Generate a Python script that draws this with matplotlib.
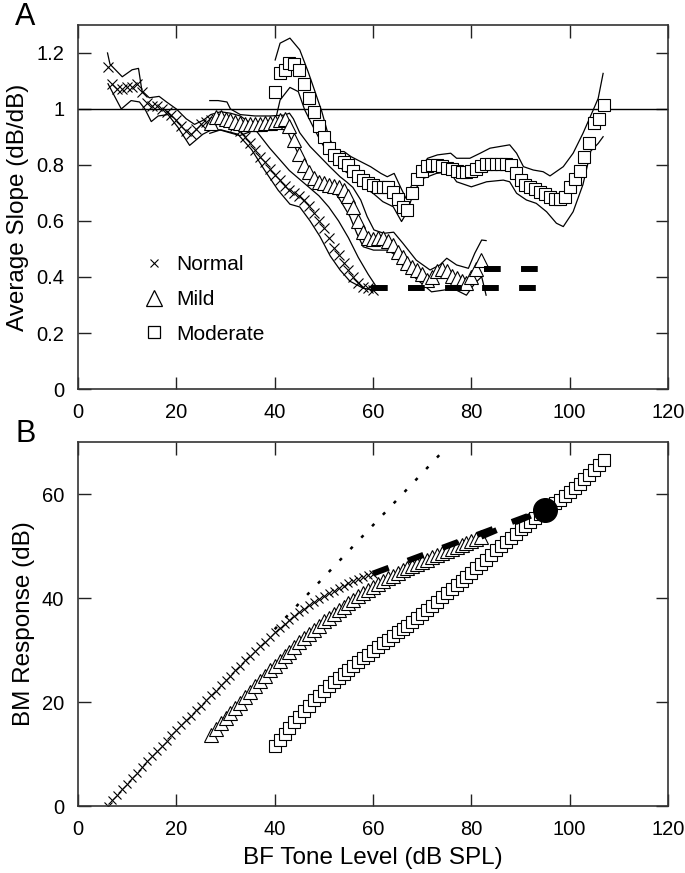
import matplotlib
matplotlib.use('Agg')
import matplotlib.pyplot as plt
from matplotlib.lines import Line2D

plt.rcParams['font.family'] = ['Liberation Sans', 'DejaVu Sans']

# ---- panel A: average slope vs BF tone level ----
normal_x = list(range(6, 61))
normal_slope = [1.15, 1.09, 1.07, 1.07, 1.08, 1.08, 1.09, 1.06, 1.02, 1.01,
                1.01, 1.00, 0.99, 0.98, 0.96, 0.94, 0.92, 0.91, 0.93, 0.945,
                0.955, 0.96, 0.965, 0.965, 0.96, 0.955, 0.94, 0.92, 0.90, 0.88,
                0.855, 0.83, 0.81, 0.785, 0.765, 0.745, 0.725, 0.71, 0.70, 0.69,
                0.675, 0.655, 0.63, 0.60, 0.575, 0.54, 0.505, 0.48, 0.45, 0.425,
                0.40, 0.38, 0.365, 0.36, 0.355]
normal_hi_x = [6, 6.5, 9, 11, 12.3, 13, 14.5, 16.5, 18, 20, 22, 23.7, 25.5, 27, 29,
               31, 33, 35, 37, 39, 41, 43, 45, 47, 49, 51, 53, 55, 57, 59, 60.5]
normal_hi = [1.20, 1.16, 1.115, 1.14, 1.145, 1.065, 1.04, 1.045, 1.025, 1.0, 0.965,
             0.945, 0.96, 0.98, 0.99, 0.985, 0.975, 0.95, 0.905, 0.86, 0.82, 0.78,
             0.75, 0.72, 0.69, 0.65, 0.60, 0.54, 0.47, 0.41, 0.37]
normal_lo_x = [6.1, 8.8, 10.8, 12.5, 13.6, 14.9, 16.3, 18.3, 20.3, 22.7, 25.4, 27.1,
               29.2, 32.5, 35.3, 38, 40.7, 43.1, 45.1, 47.2, 49.2, 51.3, 53.3, 55.3,
               58, 60.1]
normal_lo = [1.09, 1.0, 1.03, 1.025, 1.0, 0.955, 0.975, 0.98, 0.935, 0.87, 0.91,
             0.925, 0.925, 0.91, 0.855, 0.78, 0.71, 0.66, 0.65, 0.60, 0.545, 0.475,
             0.425, 0.385, 0.36, 0.354]

mild_x = list(range(27, 83))
mild_slope = [0.95, 0.97, 0.97, 0.965, 0.96, 0.955, 0.95, 0.945, 0.945, 0.945,
              0.945, 0.95, 0.95, 0.955, 0.96, 0.965, 0.94, 0.89, 0.84, 0.80,
              0.775, 0.755, 0.74, 0.735, 0.73, 0.725, 0.72, 0.71, 0.69, 0.65,
              0.60, 0.56, 0.54, 0.535, 0.54, 0.54, 0.53, 0.515, 0.49, 0.47,
              0.45, 0.435, 0.425, 0.41, 0.39, 0.40, 0.42, 0.43, 0.42, 0.405,
              0.395, 0.385, 0.38, 0.40, 0.43, 0.46]
mild_hi_x = [26.8, 28.5, 30.3, 31, 33, 36, 39, 42, 43, 43.8, 45.1, 47.2, 49.2, 51.2,
             53.3, 54.6, 55.9, 57.5, 58.8, 60.2, 62.2, 64.2, 66.1, 68.8, 71.6, 73.6,
             75, 77, 79.4, 80.7, 82.1, 83]
mild_hi = [1.03, 1.03, 1.025, 1.0, 0.98, 0.975, 0.975, 0.978, 0.985, 0.965, 0.915,
           0.866, 0.83, 0.794, 0.758, 0.74, 0.72, 0.675, 0.616, 0.568, 0.556, 0.56,
           0.52, 0.46, 0.425, 0.443, 0.467, 0.443, 0.431, 0.485, 0.532, 0.53]
mild_lo_x = [26.8, 28.9, 32.9, 36, 40, 42.5, 43.1, 45.1, 47.2, 49.2, 51.9, 53.3,
             55.3, 56.7, 58, 60.1, 62.8, 64.1, 66.8, 69.5, 71.9, 74.3, 76.3, 79,
             80.7, 82.1, 83]
mild_lo = [0.913, 0.925, 0.905, 0.925, 0.93, 0.925, 0.90, 0.83, 0.76, 0.735, 0.711,
           0.675, 0.616, 0.556, 0.508, 0.496, 0.496, 0.484, 0.425, 0.383, 0.347,
           0.353, 0.359, 0.335, 0.377, 0.401, 0.335]

mod_x = list(range(40, 108))
mod_slope = [1.06, 1.13, 1.14, 1.165, 1.16, 1.14, 1.09, 1.04, 0.99, 0.94,
             0.90, 0.86, 0.835, 0.82, 0.81, 0.80, 0.78, 0.76, 0.745, 0.735,
             0.728, 0.722, 0.72, 0.72, 0.705, 0.68, 0.65, 0.64, 0.70, 0.75,
             0.78, 0.795, 0.80, 0.80, 0.795, 0.79, 0.785, 0.78, 0.775, 0.775,
             0.78, 0.785, 0.795, 0.805, 0.805, 0.805, 0.805, 0.805, 0.80, 0.77,
             0.745, 0.73, 0.72, 0.715, 0.705, 0.695, 0.685, 0.68, 0.68, 0.685,
             0.72, 0.75, 0.78, 0.83, 0.88, 0.95, 0.965, 1.015]
mod_hi_x = [40.1, 41.1, 43.1, 45.1, 46.8, 48.2, 49.6, 51, 52.4, 54.1, 55.5, 57.5,
            59.5, 61.6, 62.9, 64.3, 65.7, 66.7, 67.7, 69.4, 71.1, 73.1, 75.8, 77,
            79.7, 81.8, 83.8, 87.8, 89.2, 90.6, 92.6, 94.6, 96, 98.7, 100.7, 102.7,
            104.8, 105.8, 106.8]
mod_hi = [1.175, 1.235, 1.253, 1.211, 1.133, 1.062, 0.99, 0.901, 0.848, 0.848,
          0.83, 0.812, 0.794, 0.77, 0.758, 0.77, 0.717, 0.681, 0.722, 0.782, 0.824,
          0.836, 0.842, 0.824, 0.824, 0.842, 0.86, 0.872, 0.842, 0.794, 0.782,
          0.776, 0.761, 0.794, 0.842, 0.913, 0.997, 1.038, 1.127]
mod_lo_x = [40.4, 41.1, 43.1, 44.8, 46.1, 47.8, 49.2, 50.6, 51.9, 53.9, 56, 58, 60,
            62, 64.1, 65.8, 66.8, 68.5, 70.2, 72.9, 75.6, 77, 80, 83.1, 86.5, 87.8,
            89.2, 91.2, 93.2, 95.3, 97.3, 98.7, 100.7, 102.7, 104.3, 105.8, 106.8]
mod_lo = [0.979, 1.032, 1.077, 1.062, 0.997, 0.937, 0.89, 0.848, 0.818, 0.782,
          0.758, 0.722, 0.699, 0.669, 0.651, 0.598, 0.628, 0.711, 0.752, 0.77,
          0.776, 0.74, 0.722, 0.74, 0.746, 0.74, 0.699, 0.675, 0.663, 0.633, 0.592,
          0.58, 0.633, 0.73, 0.85, 0.877, 0.901]

# extrapolated slopes (thick dashes)
normal_ext_x = [59.5, 95]
normal_ext_y = [0.36, 0.36]
mild_ext_x = [82.5, 95]
mild_ext_y = [0.43, 0.43]

# ---- panel B: BM response vs BF tone level ----
normal_bm = [0.0, 1.1, 2.2, 3.2, 4.3, 5.4, 6.4, 7.5, 8.6, 9.6,
             10.6, 11.6, 12.6, 13.6, 14.6, 15.5, 16.5, 17.4, 18.4, 19.3,
             20.3, 21.3, 22.2, 23.2, 24.2, 25.1, 26.1, 27.0, 28.0, 28.9,
             29.8, 30.7, 31.6, 32.5, 33.4, 34.2, 35.0, 35.8, 36.6, 37.3,
             37.9, 38.6, 39.2, 39.8, 40.3, 40.9, 41.4, 41.9, 42.4, 42.8,
             43.2, 43.6, 44.0, 44.4, 44.7]
mild_bm = [13.7, 14.8, 15.9, 16.9, 17.9, 18.9, 19.9, 21.0, 22.0, 23.1,
           24.1, 25.1, 26.1, 27.0, 27.9, 28.8, 29.7, 30.6, 31.5, 32.3,
           33.1, 33.9, 34.7, 35.5, 36.2, 36.9, 37.6, 38.3, 39.0, 39.7,
           40.4, 41.0, 41.6, 42.2, 42.7, 43.3, 43.8, 44.3, 44.8, 45.3,
           45.7, 46.2, 46.6, 47.0, 47.4, 47.8, 48.2, 48.6, 49.0, 49.4,
           49.8, 50.2, 50.6, 51.0, 51.4, 51.8]
mod_bm = [11.5, 12.7, 13.8, 15.0, 16.1, 17.2, 18.3, 19.3, 20.3, 21.2,
          22.1, 23.0, 23.8, 24.6, 25.4, 26.2, 26.9, 27.7, 28.4, 29.1,
          29.9, 30.6, 31.3, 32.0, 32.7, 33.4, 34.0, 34.7, 35.4, 36.1,
          36.9, 37.7, 38.5, 39.3, 40.1, 40.9, 41.7, 42.5, 43.3, 44.1,
          44.9, 45.7, 46.5, 47.3, 48.3, 49.2, 50.0, 50.8, 51.6, 52.4,
          53.2, 53.9, 54.7, 55.4, 56.1, 56.8, 57.5, 58.2, 58.9, 59.6,
          60.4, 61.2, 62.0, 62.8, 63.7, 64.6, 65.5, 66.5]
slope1_x = [40, 75]
slope1_y = [34, 69]
normal_bm_ext_x = [60, 95]
normal_bm_ext_y = [44.7, 57]
mild_bm_ext_x = [82, 95]
mild_bm_ext_y = [51.8, 57]
meet_x = [95]
meet_y = [56.9]

legend_labels = ['Normal', 'Mild', 'Moderate']
x_ticks = [0, 20, 40, 60, 80, 100, 120]
a_ticks = [0, 0.2, 0.4, 0.6, 0.8, 1.0, 1.2]
a_ticklabels = ['0', '0.2', '0.4', '0.6', '0.8', '1', '1.2']
b_ticks = [0, 20, 40, 60]

TICK_FS = 14.5
LABEL_FS = 17.5


def style_axes(ax):
    ax.tick_params(direction='in', length=9, width=1.0, top=True, right=True,
                   labelsize=TICK_FS, pad=10, colors='#222222', labelcolor='black')
    for sp in ax.spines.values():
        sp.set_linewidth(1.2)
        sp.set_color('#333333')
    ax.set_xlim(0, 120)
    ax.set_xticks(x_ticks)


def main():
    fig = plt.figure(figsize=(6.85, 8.73), dpi=100)
    ax_a = fig.add_axes([0.1139, 0.5544, 0.8613, 0.4170])
    ax_b = fig.add_axes([0.1139, 0.0767, 0.8613, 0.4170])

    band = dict(color='black', lw=0.9)
    dash = dict(color='black', lw=4.3, linestyle=(0, (2.8, 3.4)), solid_capstyle='butt',
                dash_capstyle='butt')

    # panel A
    ax_a.axhline(1.0, color='black', lw=1.0)
    ax_a.plot(normal_hi_x, normal_hi, **band)
    ax_a.plot(normal_lo_x, normal_lo, **band)
    ax_a.plot(mild_hi_x, mild_hi, **band)
    ax_a.plot(mild_lo_x, mild_lo, **band)
    ax_a.plot(mod_hi_x, mod_hi, **band)
    ax_a.plot(mod_lo_x, mod_lo, **band)
    ax_a.plot(normal_x, normal_slope, 'x', color='black', ms=7, mew=0.8)
    ax_a.plot(mild_x, mild_slope, '^', mfc='white', mec='black', ms=9.5, mew=0.8)
    ax_a.plot(mod_x, mod_slope, 's', mfc='white', mec='black', ms=8.5, mew=0.8)
    ax_a.plot(normal_ext_x, normal_ext_y, **dash)
    ax_a.plot(mild_ext_x, mild_ext_y, **dash)

    style_axes(ax_a)
    ax_a.set_ylim(0, 1.3)
    ax_a.set_yticks(a_ticks)
    ax_a.set_yticklabels(a_ticklabels)
    ax_a.set_ylabel('Average Slope (dB/dB)', fontsize=LABEL_FS, labelpad=5)

    handles = [Line2D([], [], ls='none', marker='x', color='black', ms=6, mew=0.8),
               Line2D([], [], ls='none', marker='^', mfc='white', mec='black', ms=11, mew=0.9),
               Line2D([], [], ls='none', marker='s', mfc='white', mec='black', ms=8, mew=0.9)]
    ax_a.legend(handles, legend_labels, loc='upper left', bbox_to_anchor=(0.093, 0.39),
                frameon=False, fontsize=15, handlelength=1.2, handletextpad=0.5,
                labelspacing=0.75, borderaxespad=0)

    # panel B
    ax_b.plot(slope1_x, slope1_y, color='black', lw=1.8, linestyle=(0, (1.3, 5.0)))
    ax_b.plot(normal_x, normal_bm, 'x', color='black', ms=6, mew=0.8)
    ax_b.plot(mild_x, mild_bm, '^', mfc='white', mec='black', ms=10, mew=0.8)
    ax_b.plot(mod_x, mod_bm, 's', mfc='white', mec='black', ms=8, mew=0.8)
    ax_b.plot(normal_bm_ext_x, normal_bm_ext_y, **dash)
    ax_b.plot(mild_bm_ext_x, mild_bm_ext_y, **dash)
    ax_b.plot(meet_x, meet_y, 'o', color='black', ms=17)

    style_axes(ax_b)
    ax_b.set_ylim(0, 70)
    ax_b.set_yticks(b_ticks)
    ax_b.set_ylabel('BM Response (dB)', fontsize=LABEL_FS, labelpad=5)
    ax_b.set_xlabel('BF Tone Level (dB SPL)', fontsize=LABEL_FS, labelpad=6)

    fig.text(0.022, 0.971, 'A', fontsize=22, va='baseline')
    fig.text(0.022, 0.494, 'B', fontsize=22, va='baseline')

    fig.savefig('out.png', dpi=100)


if __name__ == '__main__':
    main()
